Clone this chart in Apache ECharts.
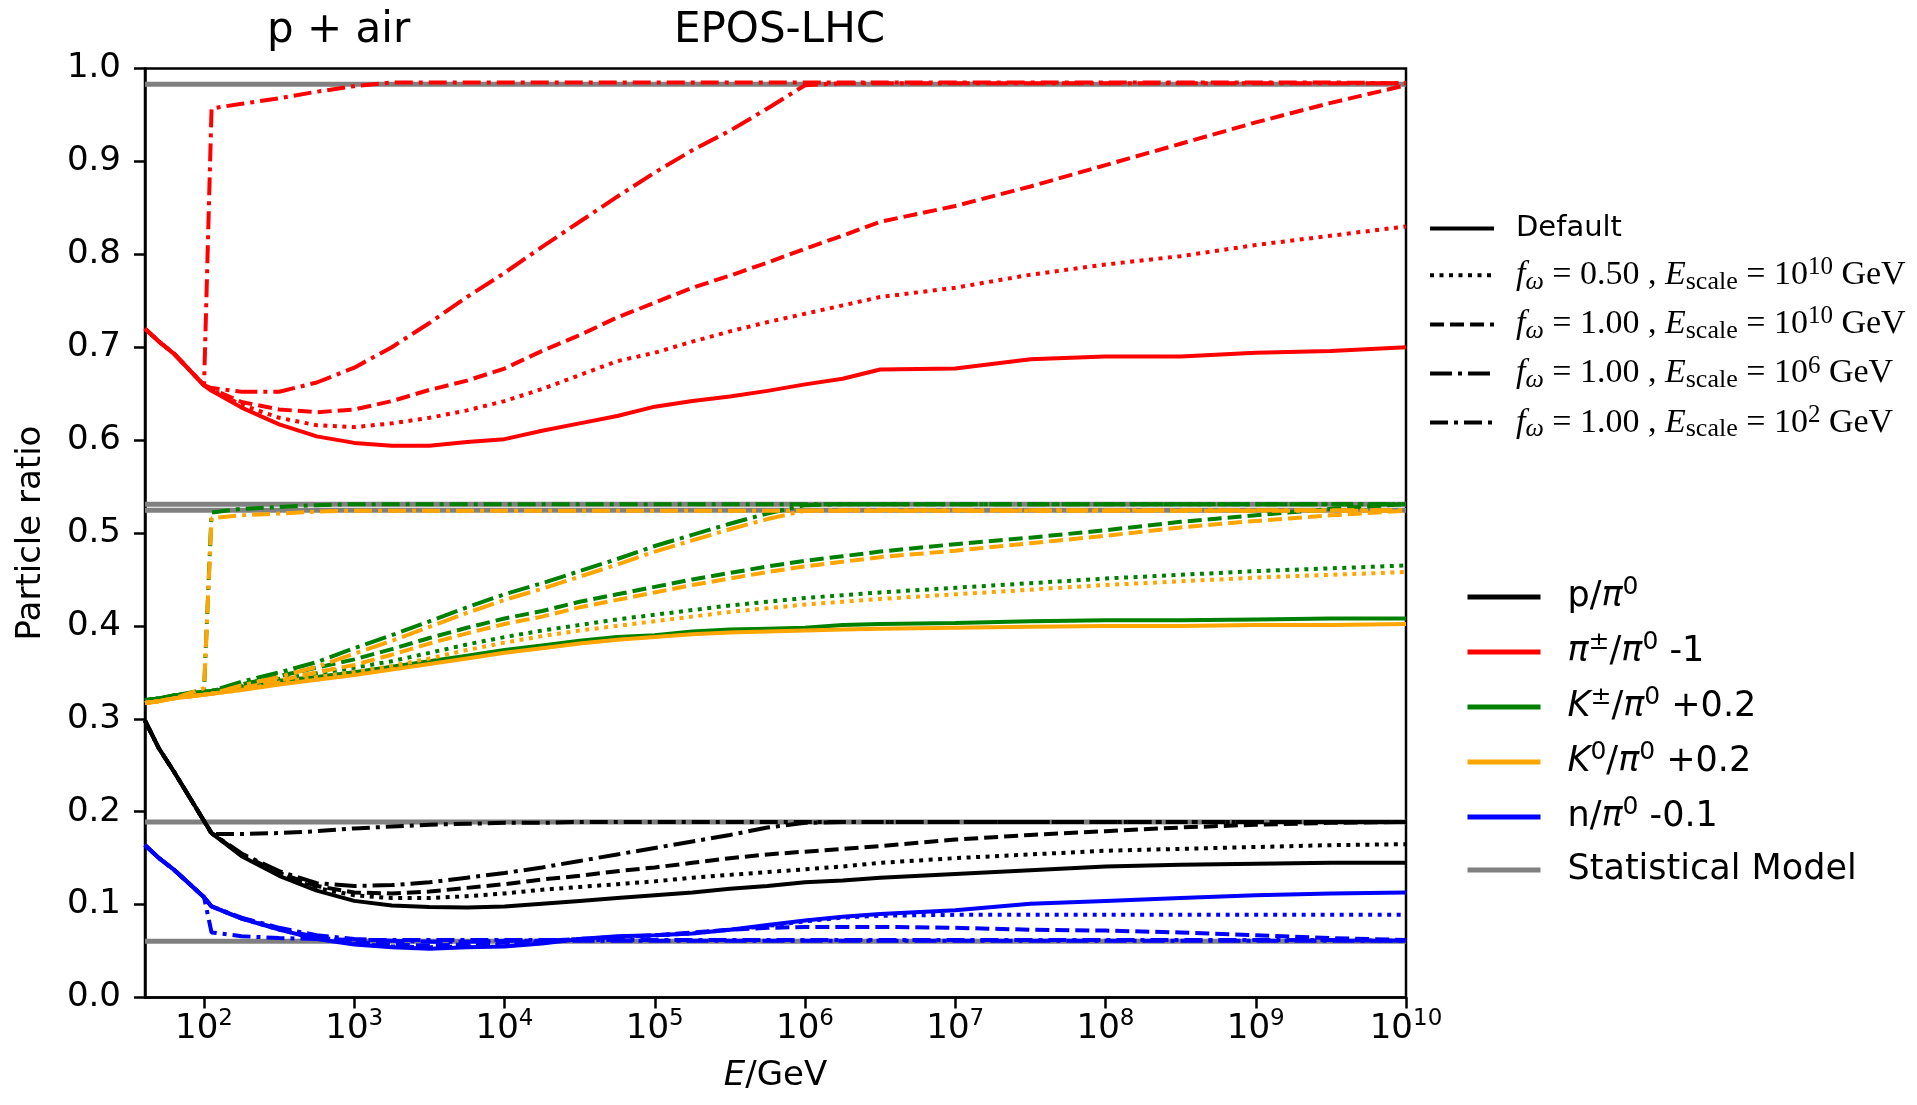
<!DOCTYPE html>
<html><head><meta charset="utf-8">
<script src="https://cdn.jsdelivr.net/npm/echarts@6/dist/echarts.min.js"></script>
<style>html,body{margin:0;padding:0;background:#fff}#c{width:1917px;height:1105px}</style>
</head><body><div id="c"></div>
<script>
// x positions: log10(E/GeV)
const logE = [1.607,1.7,1.8,2.0,2.05,2.25,2.5,2.75,3.0,3.25,3.5,3.75,4.0,4.25,4.5,4.75,5.0,5.25,5.5,5.75,6.0,6.25,6.5,7.0,7.5,8.0,8.5,9.0,9.5,10.0];
const xTickExp = [2,3,4,5,6,7,8,9,10];

// pi+-/pi0 - 1
const piDefault = [0.720,0.706,0.693,0.659,0.653,0.635,0.617,0.604,0.597,0.594,0.594,0.598,0.601,0.610,0.618,0.626,0.636,0.642,0.647,0.653,0.660,0.666,0.676,0.677,0.687,0.690,0.690,0.694,0.696,0.700];
const piF050 = [0.720,0.706,0.693,0.659,0.654,0.638,0.624,0.616,0.614,0.618,0.624,0.632,0.642,0.655,0.670,0.685,0.694,0.706,0.717,0.727,0.736,0.745,0.754,0.764,0.778,0.789,0.798,0.810,0.820,0.830];
const piF100 = [0.720,0.706,0.693,0.659,0.655,0.641,0.633,0.630,0.633,0.642,0.654,0.664,0.677,0.696,0.713,0.732,0.748,0.764,0.777,0.791,0.806,0.820,0.835,0.852,0.873,0.896,0.919,0.942,0.963,0.982];
const piE6 = [0.720,0.706,0.693,0.659,0.656,0.652,0.652,0.662,0.678,0.700,0.726,0.754,0.780,0.808,0.835,0.862,0.888,0.912,0.933,0.957,0.982,0.984,0.984,0.984,0.984,0.984,0.984,0.984,0.984,0.984];
const piE2 = [0.720,0.706,0.693,0.659,0.957,0.962,0.968,0.975,0.981,0.985,0.985,0.985,0.985,0.985,0.985,0.985,0.985,0.985,0.985,0.985,0.985,0.985,0.985,0.985,0.985,0.985,0.985,0.985,0.985,0.984];

// K+-/pi0 + 0.2
const kcDefault = [0.320,0.322,0.325,0.329,0.330,0.334,0.341,0.345,0.350,0.356,0.362,0.368,0.374,0.379,0.384,0.388,0.390,0.394,0.396,0.397,0.398,0.401,0.402,0.403,0.405,0.406,0.406,0.407,0.408,0.408];
const kcF050 = [0.320,0.322,0.325,0.329,0.330,0.335,0.343,0.349,0.355,0.362,0.371,0.380,0.388,0.395,0.401,0.407,0.412,0.417,0.422,0.426,0.430,0.433,0.436,0.441,0.446,0.451,0.455,0.459,0.462,0.465];
const kcF100 = [0.320,0.322,0.325,0.329,0.330,0.337,0.346,0.355,0.364,0.375,0.387,0.398,0.408,0.416,0.426,0.434,0.442,0.450,0.457,0.464,0.470,0.475,0.480,0.488,0.495,0.503,0.512,0.519,0.526,0.531];
const kcE6 = [0.320,0.322,0.325,0.329,0.330,0.340,0.350,0.361,0.376,0.390,0.405,0.420,0.434,0.446,0.459,0.472,0.486,0.498,0.510,0.521,0.530,0.531,0.531,0.531,0.531,0.531,0.531,0.531,0.531,0.531];
const kcE2 = [0.320,0.322,0.325,0.331,0.522,0.526,0.528,0.530,0.531,0.531,0.531,0.531,0.531,0.531,0.531,0.531,0.531,0.531,0.531,0.531,0.531,0.531,0.531,0.531,0.531,0.531,0.531,0.531,0.531,0.531];

// K0/pi0 + 0.2
const k0Default = [0.317,0.319,0.322,0.326,0.327,0.331,0.337,0.342,0.347,0.353,0.359,0.365,0.371,0.376,0.381,0.385,0.388,0.391,0.393,0.394,0.395,0.396,0.397,0.398,0.399,0.400,0.400,0.401,0.401,0.402];
const k0F050 = [0.317,0.319,0.322,0.326,0.327,0.331,0.339,0.345,0.350,0.357,0.365,0.374,0.382,0.389,0.395,0.400,0.405,0.410,0.415,0.419,0.423,0.426,0.429,0.434,0.439,0.444,0.448,0.452,0.455,0.458];
const k0F100 = [0.317,0.319,0.322,0.326,0.327,0.333,0.341,0.350,0.358,0.369,0.381,0.392,0.402,0.410,0.420,0.428,0.436,0.444,0.451,0.458,0.464,0.469,0.474,0.481,0.489,0.497,0.506,0.513,0.519,0.524];
const k0E6 = [0.317,0.319,0.322,0.326,0.327,0.336,0.345,0.356,0.370,0.384,0.399,0.414,0.428,0.440,0.453,0.466,0.480,0.492,0.504,0.515,0.524,0.5245,0.5245,0.5245,0.5245,0.5245,0.5245,0.5245,0.5245,0.5245];
const k0E2 = [0.317,0.319,0.322,0.333,0.516,0.519,0.521,0.523,0.524,0.524,0.524,0.524,0.524,0.524,0.524,0.524,0.524,0.524,0.524,0.524,0.524,0.524,0.524,0.524,0.524,0.524,0.524,0.524,0.524,0.524];

// p/pi0
const pDefault = [0.298,0.268,0.243,0.190,0.177,0.152,0.131,0.115,0.104,0.099,0.0975,0.097,0.098,0.101,0.104,0.107,0.110,0.113,0.117,0.120,0.124,0.126,0.129,0.133,0.137,0.141,0.143,0.144,0.145,0.145];
const pF050 = [0.298,0.268,0.243,0.190,0.177,0.153,0.132,0.118,0.110,0.107,0.107,0.109,0.112,0.116,0.119,0.122,0.125,0.129,0.132,0.135,0.138,0.141,0.145,0.150,0.154,0.158,0.160,0.162,0.164,0.165];
const pF100 = [0.298,0.268,0.243,0.190,0.177,0.154,0.134,0.120,0.113,0.112,0.114,0.118,0.122,0.127,0.131,0.136,0.140,0.145,0.150,0.154,0.157,0.160,0.163,0.170,0.175,0.179,0.183,0.186,0.188,0.189];
const pE6 = [0.298,0.268,0.243,0.190,0.177,0.155,0.136,0.123,0.120,0.121,0.124,0.129,0.134,0.140,0.147,0.154,0.161,0.168,0.175,0.183,0.188,0.189,0.189,0.189,0.189,0.189,0.189,0.189,0.189,0.189];
const pE2 = [0.298,0.268,0.243,0.190,0.176,0.176,0.177,0.179,0.182,0.184,0.186,0.187,0.188,0.188,0.189,0.189,0.189,0.189,0.189,0.189,0.189,0.189,0.189,0.189,0.189,0.189,0.189,0.189,0.189,0.189];

// n/pi0 - 0.1
const nDefault = [0.164,0.150,0.1375,0.108,0.098,0.085,0.073,0.063,0.057,0.054,0.0525,0.054,0.055,0.058,0.063,0.066,0.067,0.069,0.073,0.078,0.083,0.087,0.090,0.094,0.101,0.104,0.107,0.110,0.112,0.113];
const nF050 = [0.164,0.150,0.1375,0.108,0.098,0.085,0.073,0.064,0.058,0.055,0.054,0.055,0.057,0.060,0.063,0.065,0.067,0.069,0.073,0.077,0.082,0.086,0.088,0.089,0.089,0.089,0.089,0.089,0.089,0.089];
const nF100 = [0.164,0.150,0.1375,0.108,0.098,0.085,0.074,0.065,0.060,0.057,0.056,0.057,0.059,0.061,0.063,0.065,0.067,0.070,0.073,0.075,0.076,0.076,0.076,0.075,0.073,0.072,0.070,0.067,0.064,0.062];
const nE6 = [0.164,0.150,0.1375,0.108,0.098,0.086,0.075,0.067,0.063,0.061,0.060,0.060,0.061,0.061,0.061,0.061,0.061,0.061,0.061,0.061,0.061,0.061,0.061,0.061,0.061,0.061,0.061,0.061,0.061,0.061];
const nE2 = [0.164,0.150,0.1375,0.108,0.070,0.066,0.064,0.063,0.062,0.062,0.062,0.062,0.062,0.062,0.062,0.062,0.062,0.062,0.062,0.062,0.062,0.062,0.062,0.062,0.062,0.062,0.062,0.062,0.062,0.061];

// statistical model levels (pi, K+-, K0, p, n)
const statLevels = [0.983, 0.531, 0.5245, 0.189, 0.0605];
const statRange = [1.607, 10.0];

const styleNames = ['Default','f050','f100','e6','e2'];
const dashTypes = ['solid',[4,5.5],[14,6],[22,6,4,6],[18,6,4,6]];

const groups = [
  {color:'#000000', vals:[pDefault,pF050,pF100,pE6,pE2]},
  {color:'#ff0000', vals:[piDefault,piF050,piF100,piE6,piE2]},
  {color:'#008000', vals:[kcDefault,kcF050,kcF100,kcE6,kcE2]},
  {color:'#ffa500', vals:[k0Default,k0F050,k0F100,k0E6,k0E2]},
  {color:'#0000ff', vals:[nDefault,nF050,nF100,nE6,nE2]}
];

const colorLegend = ['p','pi','kc','k0','n','stat'];
const colorLegendColors = ['#000000','#ff0000','#008000','#ffa500','#0000ff','#808080'];
const colorLegendText = {
  p: '{t|p/}{i|π}{sup|0}',
  pi: '{i|π}{sup|±}{t|/}{i|π}{sup|0}{t| -1}',
  kc: '{i|K}{sup|±}{t|/}{i|π}{sup|0}{t| +0.2}',
  k0: '{i|K}{sup|0}{t|/}{i|π}{sup|0}{t| +0.2}',
  n: '{t|n/}{i|π}{sup|0}{t| -0.1}',
  stat: '{t|Statistical Model}'
};
const styleLegendText = {
  Default: '{t|Default}',
  f050: '{i|f}{isub|ω}{m| = 0.50 , }{i|E}{sub|scale}{m| = 10}{sup|10}{m| GeV}',
  f100: '{i|f}{isub|ω}{m| = 1.00 , }{i|E}{sub|scale}{m| = 10}{sup|10}{m| GeV}',
  e6: '{i|f}{isub|ω}{m| = 1.00 , }{i|E}{sub|scale}{m| = 10}{sup|6}{m| GeV}',
  e2: '{i|f}{isub|ω}{m| = 1.00 , }{i|E}{sub|scale}{m| = 10}{sup|2}{m| GeV}'
};

const series = [];
statLevels.forEach((v, k) => {
  series.push({type:'line', name:'statline'+k, z:1, symbol:'none', silent:true,
    data:[[statRange[0], v],[statRange[1], v]],
    lineStyle:{color:'#808080', width:5}});
});
groups.forEach((g, gi) => {
  g.vals.forEach((arr, si) => {
    series.push({type:'line', name:'g'+gi+'s'+si, z:2, symbol:'none', silent:true,
      data: logE.map((x, i) => [x, arr[i]]),
      lineStyle:{color:g.color, width:4, type:dashTypes[si], cap:'butt'}});
  });
});
// legend-only series
styleNames.forEach((n, si) => {
  series.push({type:'line', name:n, symbol:'none', data:[], color:'#000',
    lineStyle:{color:'#000', width:4, type:dashTypes[si], cap:'butt'}});
});
colorLegend.forEach((n, ci) => {
  series.push({type:'line', name:n, symbol:'none', data:[], color:colorLegendColors[ci],
    lineStyle:{color:colorLegendColors[ci], width:5}});
});

const FONT = 'DejaVu Sans';
const SERIF = 'Liberation Serif';

const option = {
  animation:false,
  backgroundColor:'#ffffff',
  title:[
    {text:'p + air', left:262, top:5, textStyle:{fontFamily:FONT, fontSize:42, fontWeight:'normal', color:'#000'}},
    {text:'EPOS-LHC', left:669, top:5, textStyle:{fontFamily:FONT, fontSize:42, fontWeight:'normal', color:'#000'}}
  ],
  grid:{left:145, right:511, top:68.5, bottom:107.5, show:true, borderColor:'#000', borderWidth:2.5, backgroundColor:'transparent'},
  xAxis:{
    type:'value', min:1.607, max:10,
    name:'{i|E}{t|/GeV}', nameLocation:'middle', nameGap:62,
    nameTextStyle:{rich:{
      i:{fontFamily:FONT, fontSize:34, fontStyle:'italic', color:'#000'},
      t:{fontFamily:FONT, fontSize:34, color:'#000'}}},
    axisLine:{show:true, onZero:false, lineStyle:{color:'#000', width:2.5}},
    axisTick:{show:true, length:11, lineStyle:{color:'#000', width:2.5}, customValues:xTickExp},
    axisLabel:{show:true, margin:10, customValues:xTickExp,
      formatter: v => '{b|10}{s|' + v + '}',
      rich:{
        b:{fontFamily:FONT, fontSize:34, color:'#000', lineHeight:44, verticalAlign:'middle'},
        s:{fontFamily:FONT, fontSize:23, color:'#000', lineHeight:23, verticalAlign:'top'}
      }},
    splitLine:{show:false}
  },
  yAxis:{
    type:'value', min:0, max:1, interval:0.1,
    name:'Particle ratio', nameLocation:'middle', nameGap:97, nameRotate:90,
    nameTextStyle:{fontFamily:FONT, fontSize:34, color:'#000'},
    axisLine:{show:true, lineStyle:{color:'#000', width:2.5}},
    axisTick:{show:true, length:11, lineStyle:{color:'#000', width:2.5}},
    axisLabel:{fontFamily:FONT, fontSize:34, color:'#000', margin:24, formatter: v => v.toFixed(1)},
    splitLine:{show:false}
  },
  legend:[
    {
      data:styleNames, orient:'vertical', left:1428, top:211, padding:0,
      itemWidth:64, itemHeight:44, itemGap:9.1, selectedMode:false,
      lineStyle:{width:4},
      itemStyle:{color:'rgba(0,0,0,0)', borderWidth:0},
      formatter: n => styleLegendText[n],
      textStyle:{padding:[0,0,0,17], rich:{
        t:{fontFamily:FONT, fontSize:29, color:'#000', lineHeight:40, verticalAlign:'middle'},
        m:{fontFamily:SERIF, fontSize:34, color:'#000', lineHeight:40, verticalAlign:'middle'},
        i:{fontFamily:SERIF, fontSize:34, fontStyle:'italic', color:'#000', lineHeight:40, verticalAlign:'middle'},
        isub:{fontFamily:SERIF, fontSize:26, fontStyle:'italic', color:'#000', lineHeight:24, verticalAlign:'bottom'},
        sub:{fontFamily:SERIF, fontSize:26, color:'#000', lineHeight:24, verticalAlign:'bottom'},
        sup:{fontFamily:SERIF, fontSize:25, color:'#000', lineHeight:23, verticalAlign:'top'}
      }}
    },
    {
      data:colorLegend, orient:'vertical', left:1465, top:575, padding:0,
      itemWidth:73, itemHeight:50, itemGap:13, selectedMode:false,
      lineStyle:{width:5},
      itemStyle:{color:'rgba(0,0,0,0)', borderWidth:0},
      formatter: n => colorLegendText[n],
      textStyle:{padding:[0,0,0,22], rich:{
        t:{fontFamily:FONT, fontSize:35, color:'#000', lineHeight:44, verticalAlign:'middle'},
        i:{fontFamily:FONT, fontSize:35, fontStyle:'italic', color:'#000', lineHeight:44, verticalAlign:'middle'},
        sup:{fontFamily:FONT, fontSize:25, color:'#000', lineHeight:25, verticalAlign:'top'}
      }}
    }
  ],
  series: series
};

const chart = echarts.init(document.getElementById('c'), null, {renderer:'canvas'});
chart.setOption(option);
</script>
</body></html>
